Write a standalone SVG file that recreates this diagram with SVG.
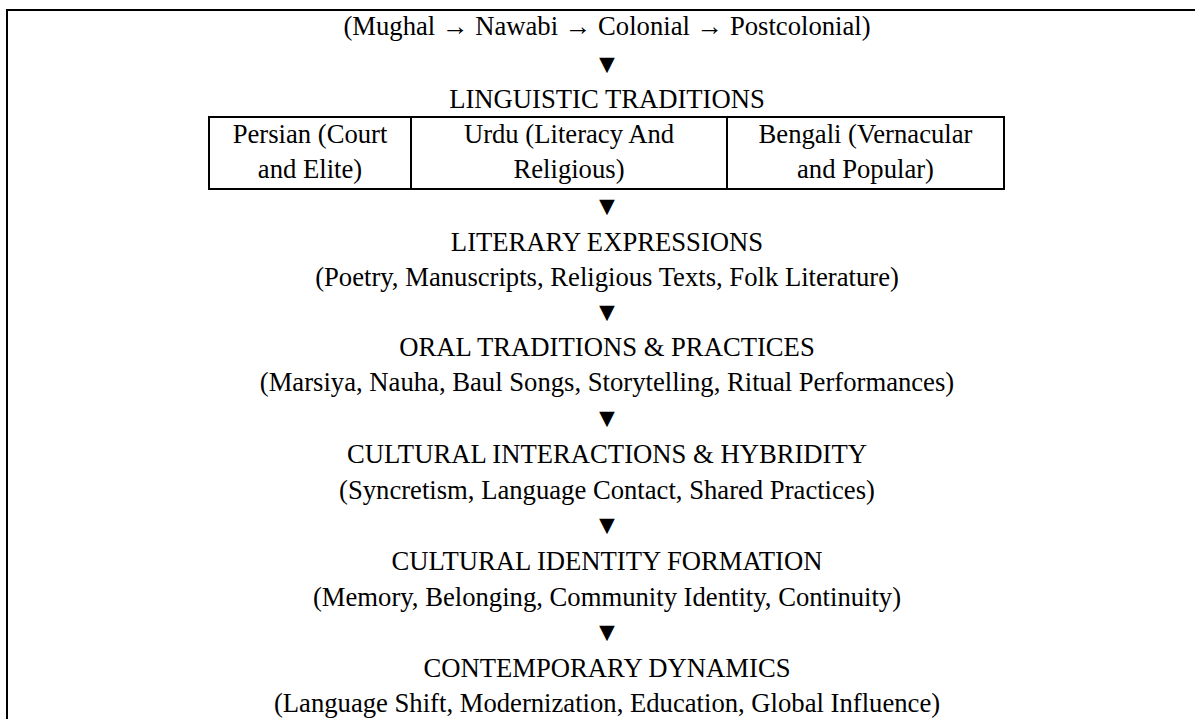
<svg xmlns="http://www.w3.org/2000/svg" width="1195" height="719" viewBox="0 0 1195 719">
<style>
  text { font-family: "Liberation Serif", "Times New Roman", serif; font-size: 26.67px; fill: #000; text-anchor: middle; }
  .frame { fill: none; stroke: #000; stroke-width: 2; }
  .cell { fill: none; stroke: #000; stroke-width: 2; }
</style>
<rect width="1195" height="719" fill="#fff"/>
<path class="frame" d="M7,720 V10 H1196"/>
<g id="period"><text x="607" y="35">(Mughal → Nawabi → Colonial → Postcolonial)</text></g>
<g id="linguistic-traditions">
  <text x="607" y="108">LINGUISTIC TRADITIONS</text>
  <rect class="cell" x="209" y="117" width="795" height="72"/>
  <line class="cell" x1="411" y1="117" x2="411" y2="189"/>
  <line class="cell" x1="727" y1="117" x2="727" y2="189"/>
</g>
<g id="persian"><text x="310" y="143">Persian (Court</text><text x="310" y="178">and Elite)</text></g>
<g id="urdu"><text x="569" y="143">Urdu (Literacy And</text><text x="569" y="178">Religious)</text></g>
<g id="bengali"><text x="865.5" y="143">Bengali (Vernacular</text><text x="865.5" y="178">and Popular)</text></g>
<g id="literary-expressions"><text x="607" y="251">LITERARY EXPRESSIONS</text><text x="607" y="286">(Poetry, Manuscripts, Religious Texts, Folk Literature)</text></g>
<g id="oral-traditions"><text x="607" y="356">ORAL TRADITIONS &amp; PRACTICES</text><text x="607" y="391">(Marsiya, Nauha, Baul Songs, Storytelling, Ritual Performances)</text></g>
<g id="cultural-interactions"><text x="607" y="463">CULTURAL INTERACTIONS &amp; HYBRIDITY</text><text x="607" y="499">(Syncretism, Language Contact, Shared Practices)</text></g>
<g id="cultural-identity"><text x="607" y="570">CULTURAL IDENTITY FORMATION</text><text x="607" y="606">(Memory, Belonging, Community Identity, Continuity)</text></g>
<g id="contemporary-dynamics"><text x="607" y="677">CONTEMPORARY DYNAMICS</text><text x="607" y="712">(Language Shift, Modernization, Education, Global Influence)</text></g>
<g id="connectors">
  <text x="607" y="73">▼</text>
  <text x="607" y="215">▼</text>
  <text x="607" y="321">▼</text>
  <text x="607" y="427">▼</text>
  <text x="607" y="534">▼</text>
  <text x="607" y="641">▼</text>
</g>
</svg>
